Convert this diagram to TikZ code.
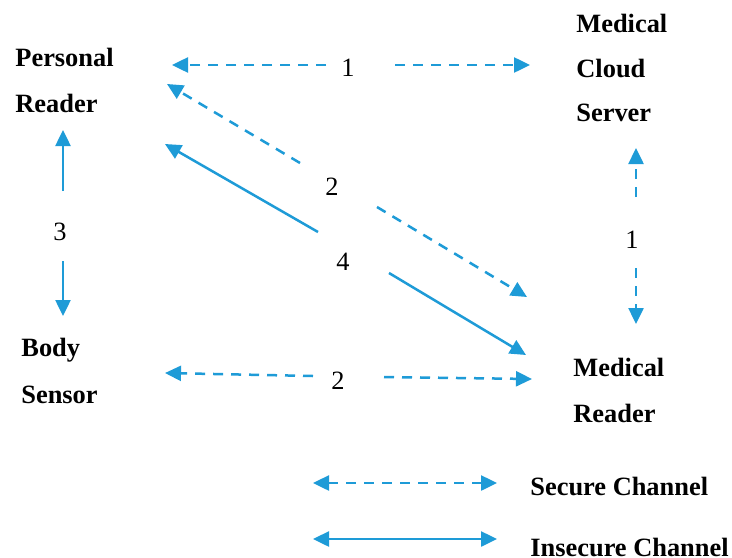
\documentclass[tikz,border=0pt]{standalone}
\usepackage{fontspec}
\setmainfont{Liberation Serif}
\usetikzlibrary{arrows.meta}
\definecolor{lineblue}{HTML}{1E9BD7}
\tikzset{
  lbl/.style={font=\fontsize{13.2}{15}\selectfont\bfseries, anchor=west, inner sep=0pt},
  num/.style={font=\fontsize{13.2}{15}\selectfont, inner sep=0pt},
  conn/.style={draw=lineblue, line width=1.25pt, -{Triangle[length=8pt,width=7.5pt]}},
  sec/.style={conn, dash pattern=on 5pt off 4pt},
  insec/.style={conn},
}
\begin{document}
\begin{tikzpicture}[x=0.5pt,y=-0.5pt]
\useasboundingbox (0,0) rectangle (732,557);
% entities
\node[lbl] (pr1) at (15,57) {Personal};
\node[lbl] (pr2) at (15,103) {Reader};
\node[lbl] (mc1) at (576,23) {Medical};
\node[lbl] (mc2) at (576,69) {Cloud};
\node[lbl] (mc3) at (576,113) {Server};
\node[lbl] (bs1) at (21,350) {Body};
\node[lbl] (bs2) at (21,395) {Sensor};
\node[lbl] (mr1) at (573,367) {Medical};
\node[lbl] (mr2) at (573,413) {Reader};
\node[lbl] (leg1) at (530,486) {Secure Channel};
\node[lbl] (leg2) at (530,547) {Insecure Channel};
% numbers
\node[num] (n1a) at (348,68) {1};
\node[num] (n2a) at (332,187) {2};
\node[num] (n4) at (343,262) {4};
\node[num] (n3) at (60,232) {3};
\node[num] (n1b) at (632,240) {1};
\node[num] (n2b) at (338,381) {2};
% connector ends
\coordinate (a1s) at (326,65); \coordinate (a1e) at (172,65);
\coordinate (a2s) at (395,65); \coordinate (a2e) at (530,65);
\coordinate (b1s) at (300,163); \coordinate (b1e) at (167,84);
\coordinate (b2s) at (377,207); \coordinate (b2e) at (527,297);
\coordinate (c1s) at (318,232); \coordinate (c1e) at (165,144);
\coordinate (c2s) at (389,273); \coordinate (c2e) at (526,355);
\coordinate (d1s) at (63,191); \coordinate (d1e) at (63,130);
\coordinate (d2s) at (63,261); \coordinate (d2e) at (63,316);
\coordinate (e1s) at (636,197); \coordinate (e1e) at (636,148);
\coordinate (e2s) at (636,268); \coordinate (e2e) at (636,324);
\coordinate (f1s) at (313,376); \coordinate (f1e) at (165,373);
\coordinate (f2s) at (384,377); \coordinate (f2e) at (532,379);
\coordinate (g1s) at (313,483); \coordinate (g1e) at (497,483);
\coordinate (h1s) at (313,539); \coordinate (h1e) at (497,539);
% connectors
\draw[sec] (a1s) -- (a1e);
\draw[sec] (a2s) -- (a2e);
\draw[sec] (b1s) -- (b1e);
\draw[sec] (b2s) -- (b2e);
\draw[insec] (c1s) -- (c1e);
\draw[insec] (c2s) -- (c2e);
\draw[insec] (d1s) -- (d1e);
\draw[insec] (d2s) -- (d2e);
\draw[sec] (e1s) -- (e1e);
\draw[sec] (e2s) -- (e2e);
\draw[sec] (f1s) -- (f1e);
\draw[sec] (f2s) -- (f2e);
\draw[sec, {Triangle[length=8pt,width=7.5pt]}-{Triangle[length=8pt,width=7.5pt]}] (g1s) -- (g1e);
\draw[insec, {Triangle[length=8pt,width=7.5pt]}-{Triangle[length=8pt,width=7.5pt]}] (h1s) -- (h1e);
\end{tikzpicture}
\end{document}
